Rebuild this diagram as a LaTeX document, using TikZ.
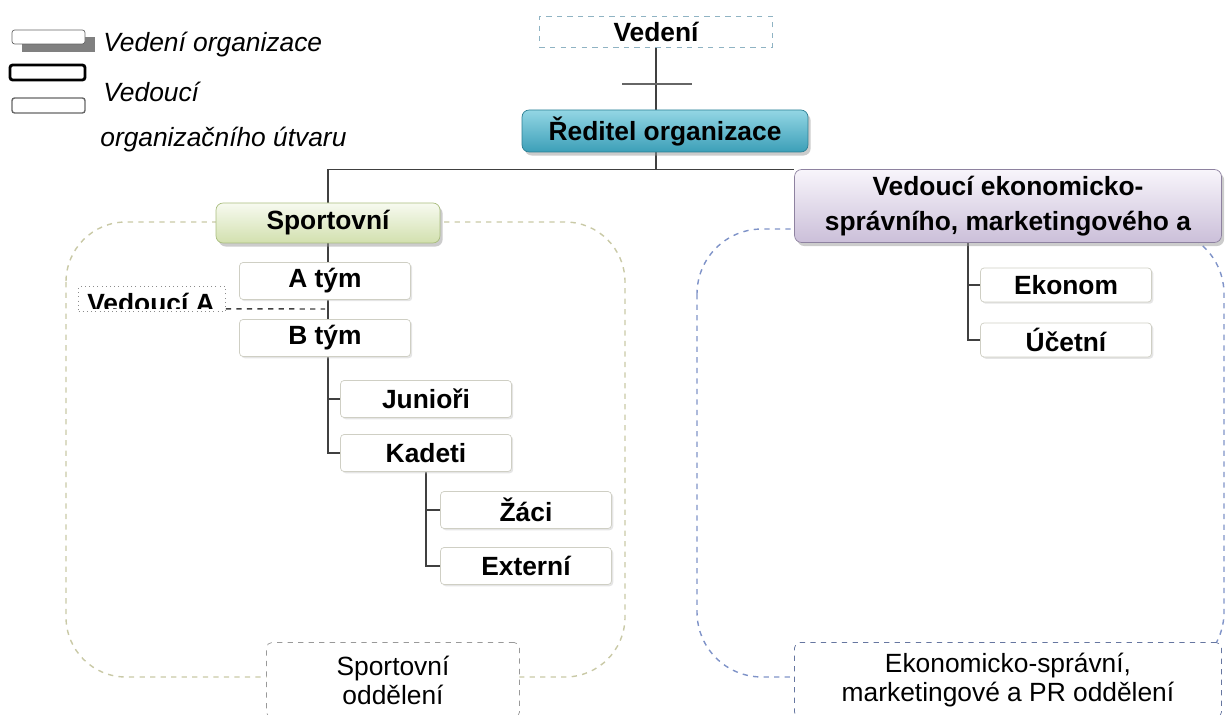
\documentclass[tikz,border=0pt]{standalone}
\usepackage{fontspec}
\setmainfont{Liberation Sans}
\usetikzlibrary{shadows,backgrounds}

\definecolor{redtop}{HTML}{93D6E4}
\definecolor{redbot}{HTML}{3C9FB8}
\definecolor{redline}{HTML}{2C7F93}
\definecolor{sptop}{HTML}{F7FAF0}
\definecolor{spbot}{HTML}{D2E0AE}
\definecolor{spline}{HTML}{A9BD7E}
\definecolor{vetop}{HTML}{F8F5FB}
\definecolor{vebot}{HTML}{CBBFD9}
\definecolor{veline}{HTML}{8E82A0}
\definecolor{boxline}{HTML}{CFCFC4}
\definecolor{sportcont}{HTML}{C9C9A6}
\definecolor{ekocont}{HTML}{7F93C8}
\definecolor{vedline}{HTML}{8FB3C3}

\newcommand{\bx}{\fontsize{15}{18}\selectfont\bfseries}
\newcommand{\rx}{\fontsize{15}{16.5}\selectfont}

\begin{document}
\begin{tikzpicture}[x=0.02cm,y=-0.02cm,
   link/.style={draw=black!75,line width=0.7pt},
   team/.style={draw=boxline,fill=white,rounded corners=2pt,font=\bx,
     minimum width=3.42cm,minimum height=0.74cm,inner sep=0pt,
     drop shadow={shadow xshift=1pt,shadow yshift=-1pt,fill=black!20}},
   head/.style={rounded corners=4pt,font=\bx,inner sep=0pt,align=center,
     drop shadow={shadow xshift=1.5pt,shadow yshift=-2pt,fill=black!40}},
   dept/.style={draw,dashed,fill=white,rounded corners=3pt,font=\rx,
     align=center,inner sep=0pt,minimum height=1.5cm},
   legend/.style={anchor=west,font=\rx\itshape,inner sep=0pt}]
   \useasboundingbox (0,0) rectangle (1226,715);

   % legend
   \fill[black!50] (22,37) rectangle (95,52);
   \draw[black!60,fill=white,rounded corners=1.5pt] (12,30) rectangle (85,44);
   \draw[black,line width=1.6pt,rounded corners=1.5pt] (10,65) rectangle (85,80);
   \draw[black!60,line width=0.8pt,rounded corners=1.5pt] (12,98) rectangle (85,113);
   \node[legend] (lgvedeni) at (103,45) {Vedení organizace};
   \node[legend] (lgvedouci) at (103,92) {Vedoucí};
   \node[legend] (lgutvar) at (100,140) {organizačního útvaru};

   % top
   \node[draw=vedline,dashed,line width=0.7pt,font=\bx,minimum width=4.66cm,minimum height=0.62cm,
     inner sep=0pt] (vedeni) at (656,32) {Vedení};
   \node[head,draw=redline,top color=redtop,bottom color=redbot,
     minimum width=5.72cm,minimum height=0.84cm] (reditel) at (665,131) {Ředitel organizace};
   \node[head,draw=spline,top color=sptop,bottom color=spbot,
     minimum width=4.48cm,minimum height=0.8cm] (sport) at (328,223) {Sportovní};
   \node[head,draw=veline,top color=vetop,bottom color=vebot,font=\fontsize{15}{20}\selectfont\bfseries,
     minimum width=8.54cm,minimum height=1.46cm] (vedeko)
     at (1008,206) {Vedoucí ekonomicko-\\správního, marketingového a};

   % sportovni
   \node[team] (atym) at (325,281) {A tým};
   \node[team] (btym) at (325,338) {B tým};
   \node[team] (junior) at (426,399) {Junioři};
   \node[team] (kadeti) at (426,453) {Kadeti};
   \node[team] (zaci) at (526,510) {Žáci};
   \node[team] (extern) at (526,566) {Externí};
   \node[draw=black!45,dotted,minimum width=2.94cm,minimum height=0.5cm,
     inner sep=0pt] (veda) at (152,299) {};
   \begin{scope}
     \clip (78,286) rectangle (226,309);
     \node[font=\bx,inner sep=0pt,anchor=base] (vedatxt) at (151,313) {Vedoucí A};
   \end{scope}

   % ekonomicke
   \node[team,minimum height=0.68cm] (ekonom) at (1066,285) {Ekonom};
   \node[team,minimum height=0.68cm] (ucetni) at (1066,340) {Účetní};
   \coordinate (ekofork) at (968,243);

   % oddeleni
   \node[dept,draw=black!40,minimum width=5.06cm] (sportodd) at (393,680) {Sportovní\\oddělení};
   \node[dept,draw=ekocont!80!black,minimum width=8.54cm] (ekoodd)
     at (1008,680) {Ekonomicko-správní,\\marketingové a PR oddělení};

   \begin{scope}[on background layer]
     \draw[sportcont,dashed,line width=0.8pt,rounded corners=1.2cm] (66,222) rectangle (625,677);
     \draw[ekocont,dashed,line width=0.8pt,rounded corners=1.3cm] (697,229) rectangle (1224,677);
     \draw[link] (vedeni.south) -- (vedeni.south |- reditel.north);
     \coordinate (tick) at (655,84);
     \draw[link,black!60,line width=1pt] ([xshift=-0.66cm]tick) -- ([xshift=0.74cm]tick);
     \draw[link] (vedeni.south |- reditel.south) -- (vedeni.south |- vedeko.north west);
     \draw[link] (sport.north) |- (vedeko.north west);
     \draw[link] (sport.south) |- (junior.west);
     \draw[link] (sport.south) |- (kadeti.west);
     \draw[link] (kadeti.south) |- (zaci.west);
     \draw[link] (kadeti.south) |- (extern.west);
     \draw[link] (ekofork) |- (ekonom.west);
     \draw[link] (ekofork) |- (ucetni.west);
     \draw[black!75,dashed,line width=0.8pt] (veda.south east) ++(0,-3) -- (325,309);
   \end{scope}
\end{tikzpicture}
\end{document}
